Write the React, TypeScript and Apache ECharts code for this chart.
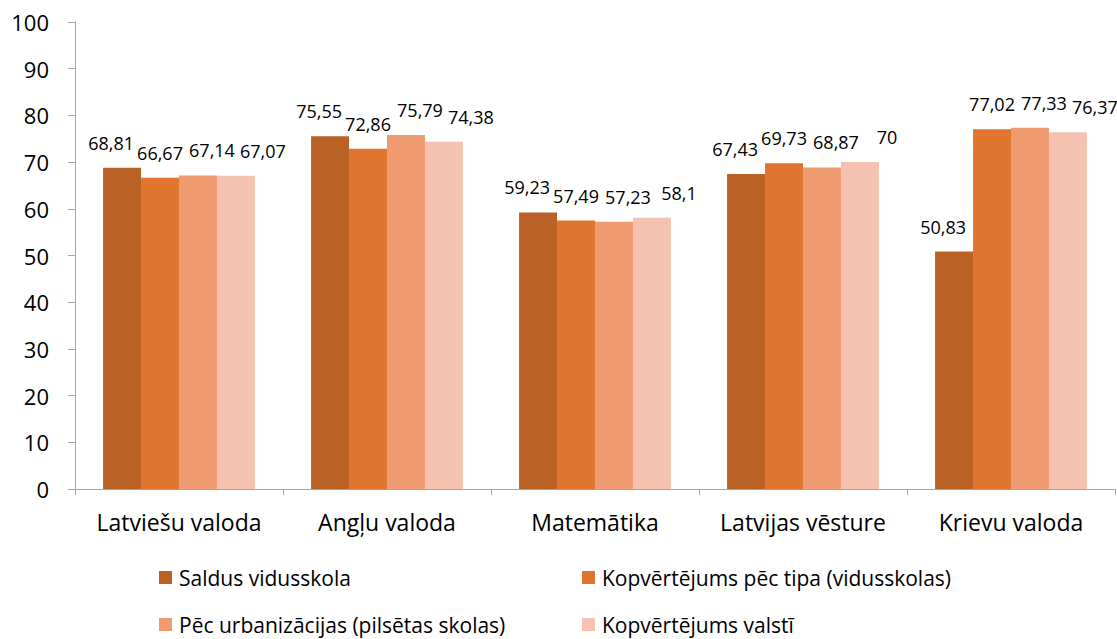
import React, { useEffect, useRef } from "react";
import * as echarts from "echarts";

const categories = ["Latviešu valoda", "Angļu valoda", "Matemātika", "Latvijas vēsture", "Krievu valoda"];
const seriesNames = [
  "Saldus vidusskola",
  "Kopvērtējums pēc tipa (vidusskolas)",
  "Pēc urbanizācijas (pilsētas skolas)",
  "Kopvērtējums valstī",
];
const saldus = [68.81, 75.55, 59.23, 67.43, 50.83];
const pecTipa = [66.67, 72.86, 57.49, 69.73, 77.02];
const urbanizacija = [67.14, 75.79, 57.23, 68.87, 77.33];
const valsti = [67.07, 74.38, 58.1, 70, 76.37];
const colors = ["#BA6226", "#DF752F", "#F09A6F", "#F5C2B1"];

const FONT = "Open Sans, Liberation Sans, sans-serif";

export default function App() {
  const ref = useRef<HTMLDivElement>(null);
  useEffect(() => {
    const chart = echarts.init(ref.current!, null, { renderer: "svg" });
    const values = [saldus, pecTipa, urbanizacija, valsti];
    const legendPos = [
      { left: 159, top: 567 },
      { left: 582, top: 567 },
      { left: 159, top: 614 },
      { left: 582, top: 614 },
    ];
    // horizontal nudges of the value labels so neighbouring labels don't collide (as in the original)
    const labelShift = [-11, 0, 14, 27];
    chart.setOption({
      animation: false,
      textStyle: { fontFamily: FONT },
      grid: { left: 75, right: 2, top: 22, bottom: 150, containLabel: false },
      legend: seriesNames.map((n, i) => ({
        data: [n],
        left: legendPos[i].left,
        top: legendPos[i].top,
        padding: 0,
        itemWidth: 13,
        itemHeight: 13,
        itemGap: 8,
        icon: "rect",
        textStyle: { fontSize: 21, color: "#000", fontFamily: FONT, padding: [0, 0, 0, 2] },
        selectedMode: false,
      })),
      xAxis: {
        type: "category",
        data: categories,
        axisLine: { lineStyle: { color: "#A6A6A6", width: 1 } },
        axisTick: { show: true, length: 6, lineStyle: { color: "#A6A6A6" } },
        axisLabel: { interval: 0, fontSize: 23, color: "#000", margin: 21, fontFamily: FONT },
      },
      yAxis: {
        type: "value",
        min: 0,
        max: 100,
        interval: 10,
        axisLine: { show: true, lineStyle: { color: "#A6A6A6", width: 1 } },
        axisTick: { show: true, length: 7, lineStyle: { color: "#A6A6A6" } },
        splitLine: { show: false },
        axisLabel: { fontSize: 22, color: "#000", margin: 26, fontFamily: FONT },
      },
      series: seriesNames.map((n, i) => ({
        name: n,
        type: "bar",
        data: values[i],
        barGap: "0%",
        barCategoryGap: "27%",
        itemStyle: { color: colors[i] },
        label: {
          show: true,
          position: "top",
          distance: 16,
          offset: [labelShift[i], 0],
          fontSize: 18,
          color: "#000",
          fontFamily: FONT,
          formatter: (p: any) => String(p.value).replace(".", ","),
        },
      })),
    });
    return () => chart.dispose();
  }, []);
  return (
    <div
      ref={ref}
      style={{ position: "fixed", left: 0, top: 0, width: 1117, height: 639, background: "#fff" }}
    />
  );
}
